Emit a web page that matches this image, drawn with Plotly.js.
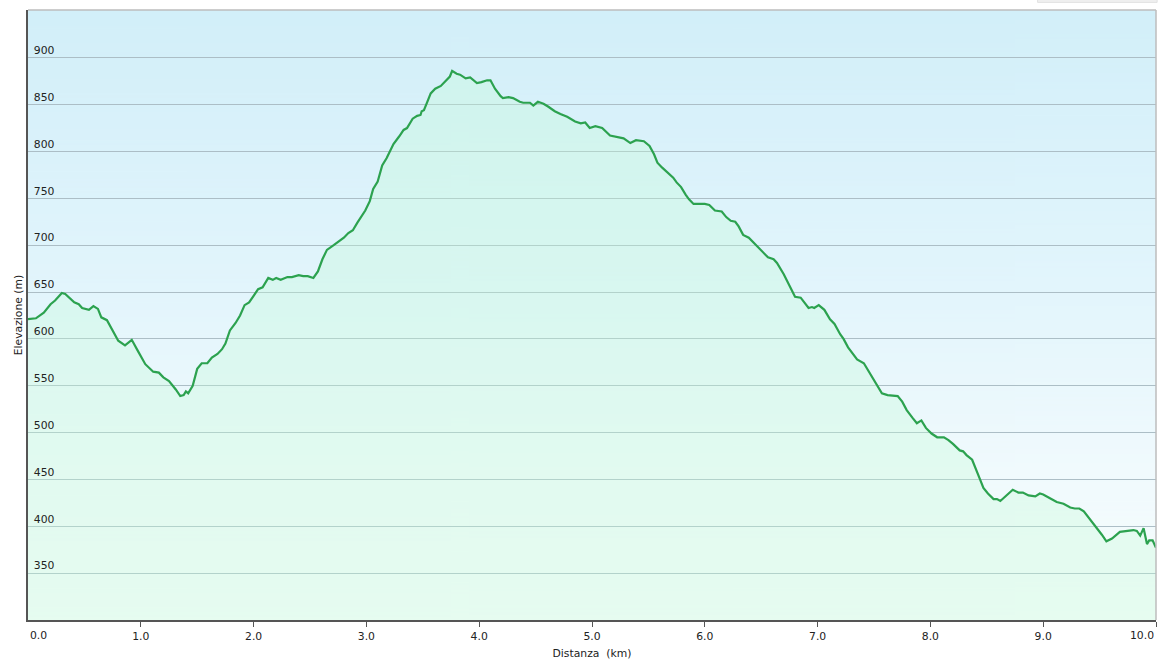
<!DOCTYPE html>
<html>
<head>
<meta charset="utf-8">
<script src="https://cdn.plot.ly/plotly-3.0.1.min.js"></script>
<style>
html,body{margin:0;padding:0;background:#fff;}
#chart{width:1163px;height:660px;}
</style>
</head>
<body>
<div id="chart"></div>
<script>
// Distance (km)
var distanceKm = [
0.00,0.07,0.14,0.20,0.24,0.30,0.33,0.41,0.45,0.48,0.54,0.58,0.62,0.65,0.70,0.75,0.80,0.86,0.92,0.97,
1.01,1.04,1.11,1.16,1.20,1.25,1.31,1.35,1.38,1.40,1.42,1.46,1.50,1.54,1.59,1.63,1.68,1.72,
1.75,1.79,1.84,1.88,1.92,1.96,2.00,2.04,2.08,2.13,2.17,2.20,2.24,2.30,2.34,2.40,2.44,2.48,2.53,2.57,
2.61,2.65,2.71,2.76,2.80,2.84,2.88,2.92,2.96,2.99,3.03,3.06,3.10,3.14,3.18,3.21,3.24,3.29,3.33,3.36,
3.41,3.45,3.48,3.49,3.51,3.54,3.57,3.61,3.66,3.70,3.74,3.76,3.80,3.83,3.85,3.88,3.92,3.95,3.98,
4.02,4.07,4.10,4.14,4.19,4.21,4.26,4.30,4.36,4.39,4.45,4.48,4.52,4.57,4.61,4.67,4.72,4.78,4.85,4.90,
4.94,4.98,5.03,5.09,5.16,5.24,5.28,5.34,5.39,5.46,5.51,5.55,5.58,5.62,5.65,5.69,5.72,5.75,5.79,5.83,
5.86,5.90,5.96,6.00,6.04,6.09,6.15,6.19,6.23,6.27,6.30,6.34,6.39,6.43,6.48,6.52,6.56,6.61,6.64,6.70,
6.74,6.77,6.80,6.85,6.89,6.92,6.95,6.97,7.01,7.06,7.11,7.15,7.20,7.23,7.27,7.32,7.35,7.41,7.45,7.49,
7.53,7.57,7.62,7.67,7.71,7.75,7.79,7.84,7.88,7.92,7.96,8.01,8.06,8.12,8.16,8.20,8.26,8.29,8.32,8.37,
8.41,8.44,8.47,8.51,8.56,8.59,8.62,8.68,8.73,8.78,8.82,8.87,8.93,8.97,9.00,9.06,9.12,9.18,9.24,9.28,
9.32,9.36,9.40,9.44,9.48,9.52,9.56,9.61,9.68,9.74,9.80,9.83,9.86,9.89,9.92,9.94,9.97,10.00
];
// Elevation (m)
var elevationM = [
621,622,628,637,641,649,648,639,637,633,631,635,632,623,620,609,598,593,599,588,
579,573,565,564,559,555,546,539,540,544,542,550,568,574,574,580,584,589,
595,609,617,625,636,639,646,653,655,665,663,665,663,666,666,668,667,667,665,672,
685,695,700,704,708,713,716,724,731,737,747,760,768,785,793,800,808,816,823,825,
835,838,839,843,844,853,862,867,870,875,880,886,883,882,880,878,879,876,873,
874,876,876,867,859,857,858,857,853,852,852,849,853,851,848,843,840,837,832,830,
831,825,827,825,817,815,814,809,812,811,806,797,788,783,780,776,772,767,762,754,
749,744,744,744,743,737,736,730,726,725,720,711,708,703,696,692,687,685,681,669,
660,653,645,644,637,633,634,633,636,631,621,616,605,600,591,582,578,574,566,558,
549,542,540,539,539,533,524,516,510,513,505,499,495,495,492,488,481,480,476,471,
460,450,441,435,429,429,427,434,439,436,436,433,432,435,434,430,426,424,420,419,
419,416,410,403,397,391,384,387,394,395,396,395,390,398,381,385,385,377
];
// Axis ticks
var xTickVals = [0,1,2,3,4,5,6,7,8,9,10];
var xTickText = ['','1.0','2.0','3.0','4.0','5.0','6.0','7.0','8.0','9.0',''];
var yTickVals = [350,400,450,500,550,600,650,700,750,800,850,900];
var yTickText = ['350','400','450','500','550','600','650','700','750','800','850','900'];

var X_MIN = 0, X_MAX = 10, Y_MIN = 300, Y_MAX = 951;

// background gradient image
var cv = document.createElement('canvas');
cv.width = 4; cv.height = 512;
var ctx = cv.getContext('2d');
var g = ctx.createLinearGradient(0,0,0,512);
g.addColorStop(0,'rgb(210,239,249)');
g.addColorStop(0.45,'rgb(226,245,252)');
g.addColorStop(0.75,'rgb(240,250,253)');
g.addColorStop(1,'rgb(246,252,252)');
ctx.fillStyle = g; ctx.fillRect(0,0,4,512);
var bgUrl = cv.toDataURL('image/png');

var FONT = 'DejaVu Sans, Verdana, sans-serif';
var FS = 10.8;

var trace = {
  type:'scatter', mode:'lines',
  x: distanceKm, y: elevationM,
  line:{color:'#2ca24f', width:2.2},
  fill:'tozeroy',
  fillcolor:'rgba(196,252,215,0.32)',
  hoverinfo:'x+y'
};

var layout = {
  width:1163, height:660,
  margin:{l:28, r:7, t:10, b:40},
  paper_bgcolor:'#ffffff',
  plot_bgcolor:'rgba(0,0,0,0)',
  showlegend:false,
  font:{family:FONT, size:FS, color:'#222'},
  xaxis:{
    range:[X_MIN,X_MAX], tickmode:'array', tickvals:xTickVals, ticktext:xTickText,
    showgrid:false, zeroline:false,
    showline:true, linecolor:'#555', linewidth:2,
    ticks:'outside', ticklen:5, tickcolor:'#555', tickwidth:1,
    tickfont:{family:FONT, size:FS, color:'#222'},
    title:{text:'Distanza\u00a0 (km)', font:{family:FONT, size:FS, color:'#222'}, standoff:7},
    automargin:false, fixedrange:true
  },
  yaxis:{
    range:[Y_MIN,Y_MAX], tickmode:'array', tickvals:yTickVals, ticktext:yTickText,
    showgrid:true, gridcolor:'rgb(172,190,198)', gridwidth:1,
    zeroline:false, showline:true, linecolor:'#555', linewidth:2,
    ticks:'', ticklabelposition:'inside top', ticklabelstandoff:4,
    tickfont:{family:FONT, size:FS, color:'#222'},
    title:{text:'Elevazione (m)', font:{family:FONT, size:FS, color:'#222'}, standoff:9},
    automargin:false, fixedrange:true
  },
  images:[{
    source:bgUrl, xref:'x', yref:'y', x:X_MIN, y:Y_MAX, sizex:X_MAX-X_MIN, sizey:Y_MAX-Y_MIN,
    sizing:'stretch', layer:'below', xanchor:'left', yanchor:'top'
  }],
  shapes:[
    {type:'line', xref:'paper', yref:'paper', x0:0, x1:1, y0:1, y1:1, line:{color:'#bcbcbc', width:1.5}},
    {type:'line', xref:'paper', yref:'paper', x0:1, x1:1, y0:0, y1:1, line:{color:'#bcbcbc', width:1.5}},
    {type:'rect', xref:'paper', yref:'paper', x0:0.895, x1:1.001, y0:1.0125, y1:1.03, fillcolor:'#efefef', line:{color:'#e2e2e2', width:1}}
  ],
  annotations:[
    {xref:'x', yref:'paper', x:X_MIN, y:0, yshift:-7, text:'0.0', showarrow:false, xanchor:'left', yanchor:'top', font:{family:FONT, size:FS, color:'#222'}},
    {xref:'x', yref:'paper', x:X_MAX, y:0, yshift:-7, text:'10.0', showarrow:false, xanchor:'right', yanchor:'top', font:{family:FONT, size:FS, color:'#222'}}
  ]
};

Plotly.newPlot('chart',[trace],layout,{displayModeBar:false, staticPlot:true});
</script>
</body>
</html>
